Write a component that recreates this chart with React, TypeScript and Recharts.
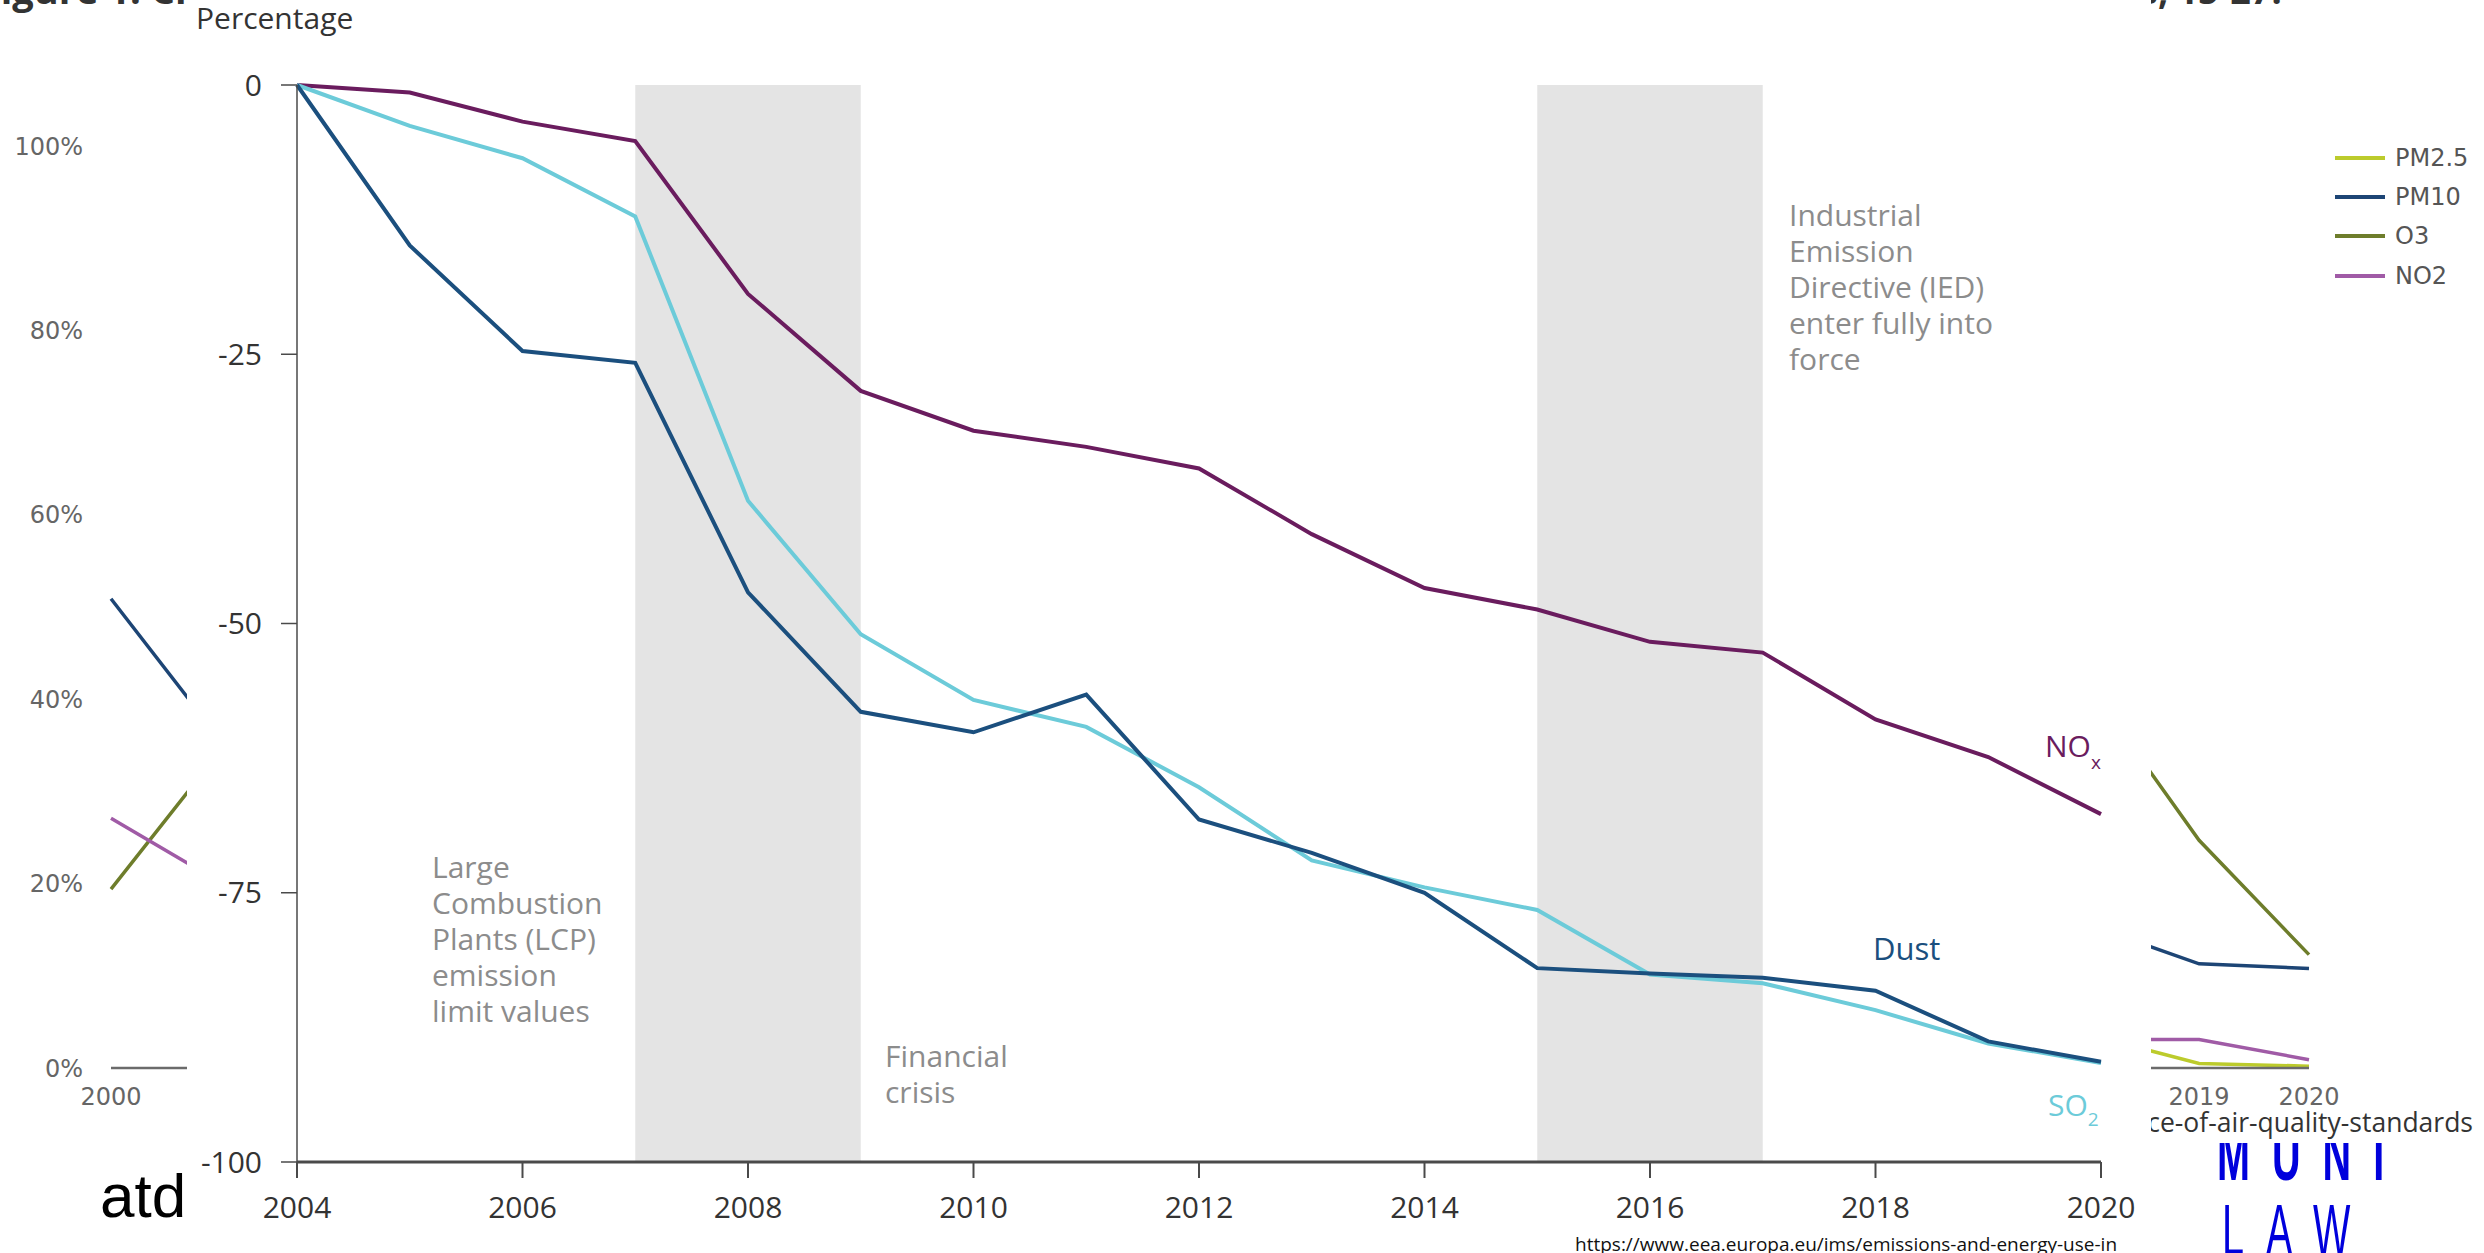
import React from "react";
import { LineChart, Line, XAxis, YAxis, ReferenceArea, Legend } from "recharts";

// main chart: change in emissions from large combustion plants, % vs 2004
const years = [2004, 2005, 2006, 2007, 2008, 2009, 2010, 2011, 2012, 2013, 2014, 2015, 2016, 2017, 2018, 2019, 2020];
const noxValues = [0, -0.7, -3.4, -5.2, -19.4, -28.4, -32.1, -33.6, -35.6, -41.7, -46.7, -48.7, -51.7, -52.7, -58.9, -62.4, -67.7];
const dustValues = [0, -14.9, -24.7, -25.8, -47.1, -58.2, -60.1, -56.6, -68.2, -71.3, -75.0, -82.0, -82.5, -82.9, -84.1, -88.8, -90.7];
const so2Values = [0, -3.8, -6.8, -12.2, -38.6, -51.0, -57.1, -59.6, -65.2, -72.0, -74.5, -76.6, -82.6, -83.4, -85.9, -89.0, -90.8];
const xTicks = [2004, 2006, 2008, 2010, 2012, 2014, 2016, 2018, 2020];
const yTicks = [0, -25, -50, -75, -100];
const shadedPeriods = [
  [2007, 2009],
  [2015, 2017],
];

// the chart behind it (only its edges show)
const bgYears = [2000, 2001, 2018, 2019, 2020];
const pm25Values = [null, null, 3.6, 0.5, 0.2];
const pm10Values = [50.9, 35.5, 15.5, 11.3, 10.8];
const o3Values = [19.4, 34.5, 41.4, 24.7, 12.3];
const no2Values = [27.1, 20.1, 3.1, 3.1, 0.9];
const bgXTicks = [2000, 2001, 2002, 2003, 2004, 2005, 2006, 2007, 2008, 2009, 2010, 2011, 2012, 2013, 2014, 2015, 2016, 2017, 2018, 2019, 2020];
const bgYTicks = [0, 20, 40, 60, 80, 100];

const COLORS = { nox: "#6a1c5e", dust: "#1b4f7e", so2: "#6ccbd9" };

const bgSeries = [
  { key: "pm25", name: "PM2.5", color: "#bccb2c" },
  { key: "pm10", name: "PM10", color: "#1d4575" },
  { key: "o3", name: "O3", color: "#6e7d2b" },
  { key: "no2", name: "NO2", color: "#a05ba6" },
];

const mainData = years.map((year, i) => ({
  year,
  nox: noxValues[i],
  dust: dustValues[i],
  so2: so2Values[i],
}));

const bgData = bgYears.map((year, i) => ({
  year,
  pm25: pm25Values[i],
  pm10: pm10Values[i],
  o3: o3Values[i],
  no2: no2Values[i],
}));

const OPEN = "'Open Sans', sans-serif";
const GREY_NOTE = "#8c8c8c";
const LOGO_FONT = "'Liberation Sans', Arial, sans-serif";

function BgLegend() {
  return (
    <div style={{ fontFamily: "'DejaVu Sans', sans-serif", fontSize: 24, color: "#555" }}>
      {bgSeries.map((s) => (
        <div key={s.key} style={{ display: "flex", alignItems: "center", height: 39.3 }}>
          <div style={{ width: 50, height: 4, background: s.color, marginRight: 10 }} />
          {s.name}
        </div>
      ))}
    </div>
  );
}

export default function App() {
  return (
    <div
      style={{
        position: "absolute",
        left: 0,
        top: 0,
        width: 2484,
        height: 1253,
        overflow: "hidden",
        background: "#fff",
      }}
    >
      {/* background chart */}
      <div style={{ position: "absolute", left: 0, top: 0 }}>
        <LineChart width={2484} height={1253} data={bgData} margin={{ top: 146, right: 175, bottom: 0, left: 0 }}>
          <XAxis
            dataKey="year"
            type="number"
            domain={[2000, 2020]}
            ticks={bgXTicks}
            interval={0}
            height={185}
            tickLine={false}
            tickSize={0}
            tickMargin={20}
            axisLine={{ stroke: "#6b6b6b", strokeWidth: 2.5 }}
            tick={{ fill: "#666", fontSize: 24, fontFamily: "'DejaVu Sans', sans-serif" }}
          />
          <YAxis
            type="number"
            domain={[0, 100]}
            ticks={bgYTicks}
            width={111}
            axisLine={false}
            tickLine={false}
            tickSize={0}
            tickMargin={28}
            tickFormatter={(v: number) => `${v}%`}
            tick={{ fill: "#666", fontSize: 24, fontFamily: "'DejaVu Sans', sans-serif" }}
          />
          <Legend
            layout="vertical"
            align="center"
            verticalAlign="middle"
            content={() => <BgLegend />}
            wrapperStyle={{ position: "absolute", left: 2335, top: 138, width: 150 }}
          />
          {bgSeries.map((s) => (
            <Line
              key={s.key}
              dataKey={s.key}
              type="linear"
              stroke={s.color}
              strokeWidth={3.5}
              dot={false}
              isAnimationActive={false}
            />
          ))}
        </LineChart>
      </div>

      {/* loose bits of the slide around the chart */}
      <svg width={2484} height={1253} style={{ position: "absolute", left: 0, top: 0 }}>
        <defs>
          <clipPath id="muniClip">
            <rect x={2150} y={1143} width={334} height={110} />
          </clipPath>
        </defs>
        <text x={200} y={4} textAnchor="end" fontFamily={OPEN} fontWeight={700} fontSize={38} fill="#333">
          Figure 1: Ch
        </text>
        <text x={2140} y={4} fontFamily={OPEN} fontWeight={700} fontSize={36} fill="#333">
          s, 15-27.
        </text>
        <text x={100} y={1217} fontFamily={LOGO_FONT} fontSize={62} fill="#000">
          atd
        </text>
        <text x={2473} y={1132} textAnchor="end" fontFamily={OPEN} fontSize={26.5} fill="#333">
          status-and-exceedance-of-air-quality-standards
        </text>
        <g clipPath="url(#muniClip)">
          <g transform="translate(2217,1180) scale(0.55,1)">
            <text x={0} y={0} fontFamily={LOGO_FONT} fontWeight={700} fontSize={72} letterSpacing={40} fill="#0000dc">
              MUNI
            </text>
          </g>
        </g>
        <g transform="translate(2222,1255) scale(0.55,1)">
          <text x={0} y={0} fontFamily={LOGO_FONT} fontWeight={300} fontSize={72} letterSpacing={40} fill="#0000dc">
            LAW
          </text>
        </g>
      </svg>

      {/* main chart */}
      <div style={{ position: "absolute", left: 187, top: 0, width: 1964, height: 1253, background: "#fff" }}>
        <LineChart width={1964} height={1253} data={mainData} margin={{ top: 85, right: 50, bottom: 0, left: 0 }}>
          {shadedPeriods.map(([a, b]) => (
            <ReferenceArea key={a} x1={a} x2={b} y1={-100} y2={0} fill="#e4e4e4" fillOpacity={1} stroke="none" />
          ))}
          <XAxis
            dataKey="year"
            type="number"
            domain={[2004, 2020]}
            ticks={xTicks}
            interval={0}
            height={91}
            tickSize={16}
            tickMargin={19}
            axisLine={{ stroke: "#4a4a4a", strokeWidth: 3 }}
            tickLine={{ stroke: "#4a4a4a", strokeWidth: 2 }}
            tick={{ fill: "#333", fontSize: 30, fontFamily: OPEN }}
          />
          <YAxis
            type="number"
            domain={[-100, 0]}
            ticks={yTicks}
            interval={0}
            width={110}
            tickSize={16}
            tickMargin={19}
            axisLine={{ stroke: "#4a4a4a", strokeWidth: 1.5 }}
            tickLine={{ stroke: "#4a4a4a", strokeWidth: 1.5 }}
            tick={{ fill: "#333", fontSize: 30, fontFamily: OPEN }}
          />
          <Line dataKey="nox" type="linear" stroke={COLORS.nox} strokeWidth={4} dot={false} isAnimationActive={false} />
          <Line dataKey="so2" type="linear" stroke={COLORS.so2} strokeWidth={4} dot={false} isAnimationActive={false} />
          <Line dataKey="dust" type="linear" stroke={COLORS.dust} strokeWidth={4} dot={false} isAnimationActive={false} />
        </LineChart>

        <svg width={1964} height={1253} style={{ position: "absolute", left: 0, top: 0, pointerEvents: "none" }}>
          <text x={9} y={29} fontFamily={OPEN} fontSize={30} fill="#333">
            Percentage
          </text>
          <text fontFamily={OPEN} fontSize={30} fill={GREY_NOTE}>
            {["Large", "Combustion", "Plants (LCP)", "emission", "limit values"].map((t, i) => (
              <tspan key={t} x={245} y={878 + i * 36}>
                {t}
              </tspan>
            ))}
          </text>
          <text fontFamily={OPEN} fontSize={30} fill={GREY_NOTE}>
            {["Financial", "crisis"].map((t, i) => (
              <tspan key={t} x={698} y={1067 + i * 36}>
                {t}
              </tspan>
            ))}
          </text>
          <text fontFamily={OPEN} fontSize={30} fill={GREY_NOTE}>
            {["Industrial", "Emission", "Directive (IED)", "enter fully into", "force"].map((t, i) => (
              <tspan key={t} x={1602} y={226 + i * 36}>
                {t}
              </tspan>
            ))}
          </text>
          <text x={1858} y={757} fontFamily={OPEN} fontSize={30} fill={COLORS.nox}>
            NO
            <tspan fontSize={19} dy={12}>
              x
            </tspan>
          </text>
          <text x={1686} y={960} fontFamily={OPEN} fontSize={31} fill={COLORS.dust}>
            Dust
          </text>
          <text x={1861} y={1116} fontFamily={OPEN} fontSize={30} fill={COLORS.so2}>
            SO
            <tspan fontSize={19} dy={10}>
              2
            </tspan>
          </text>
          <text x={1388} y={1251} fontFamily={OPEN} fontSize={19} fill="#111">
            https://www.eea.europa.eu/ims/emissions-and-energy-use-in
          </text>
        </svg>
      </div>
    </div>
  );
}
